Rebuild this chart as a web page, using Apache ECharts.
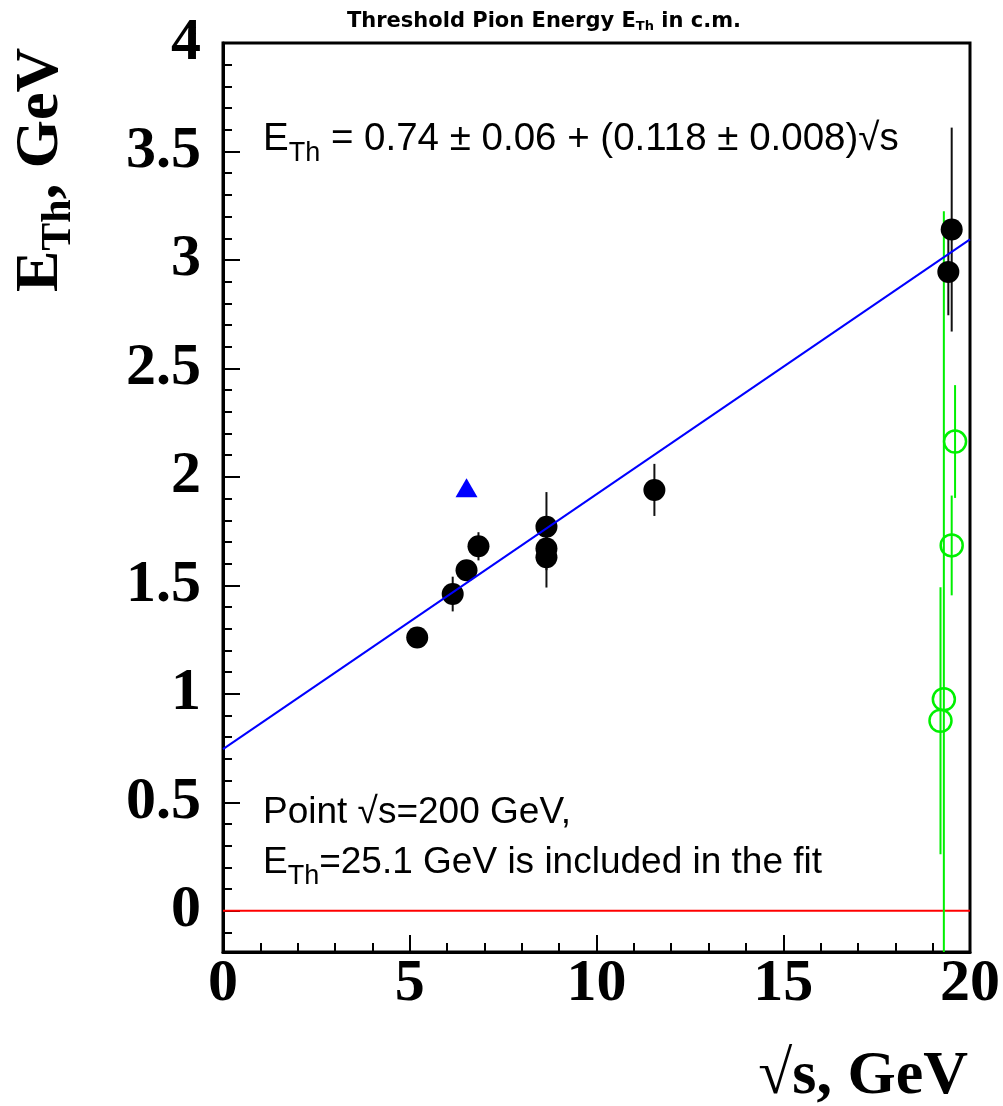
<!DOCTYPE html>
<html><head><meta charset="utf-8">
<script src="https://cdn.jsdelivr.net/npm/echarts@6/dist/echarts.min.js"></script>
<style>html,body{margin:0;padding:0;background:#fff}#c{width:1003px;height:1106px}</style>
</head><body><div id="c"></div>
<script>
// ---- data ----
const blackX   = [5.2, 6.15, 6.52, 6.84, 8.66, 8.66, 8.66, 11.55, 19.42, 19.51];
const blackY   = [1.26, 1.46, 1.57, 1.68, 1.77, 1.67, 1.63, 1.94, 2.945, 3.14];
const blackErr = [0.03, 0.08, 0.03, 0.065, 0.16, 0.10, 0.14, 0.12, 0.20, 0.47];
const greenX   = [19.21, 19.30, 19.51, 19.60];
const greenY   = [0.876, 0.975, 1.684, 2.163];
const greenErr = [0.615, 2.25, 0.23, 0.26];
const triX = [6.52];
const triY = [1.95];
const fitX = [0, 20];
const fitY = [0.745, 3.095];
const zeroX = [0, 20];
const zeroY = [0, 0];
const xTickLabels = [0, 5, 10, 15, 20];
const yTickLabels = [0, 0.5, 1, 1.5, 2, 2.5, 3, 3.5, 4];
const titleParts = ['Threshold Pion Energy E', 'Th', ' in c.m.'];
const formulaParts = ['E', 'Th', ' = 0.74 \u00b1 0.06 + (0.118 \u00b1 0.008)\u221as'];
const noteLine1 = 'Point \u221as=200 GeV,';
const noteLine2Parts = ['E', 'Th', '=25.1 GeV is included in the fit'];
const yTitleParts = ['E', 'Th', ', GeV'];
const xTitle = '\u221as, GeV';

// ---- helpers ----
const yMinorTicks = [];
for (let i = -1; i < 40; i++) { if (i % 5 !== 0) yMinorTicks.push(i / 10); }
const mctx = document.createElement('canvas').getContext('2d');
function measure(t, f) { mctx.font = f; return mctx.measureText(t).width; }
function run(parts, x0, baseline, color) {
  let x = x0; const els = [];
  parts.forEach(p => {
    els.push({ type: 'text', x: x, y: baseline + (p.dy || 0) - 0.345 * p.fs, silent: true,
      style: { text: p.t, font: p.f, fill: color || '#000', textAlign: 'left', textVerticalAlign: 'middle' } });
    x += measure(p.t, p.f);
  });
  return { els, width: x - x0 };
}
const SANS = '"Liberation Sans", Arial, sans-serif';
const SERIF = '"Liberation Serif", "Times New Roman", serif';
const TSANS = '"DejaVu Sans", sans-serif';
const pack = (xs, ys, es) => xs.map((x, i) => es ? [x, ys[i], es[i]] : [x, ys[i]]);

// title
const tf = 'bold 21px ' + TSANS, tfs = 'bold 13px ' + TSANS;
const titleSpec = [
  { t: titleParts[0], f: tf, fs: 21 },
  { t: titleParts[1], f: tfs, fs: 13, dy: 2 },
  { t: titleParts[2], f: tf, fs: 21 }];
let tw = run(titleSpec, 0, 0).width;
const titleEls = run(titleSpec, 544 - tw / 2, 29).els;

// formula
const ff = '38.5px ' + SANS, ffs = '27px ' + SANS;
const formulaEls = run([
  { t: formulaParts[0], f: ff, fs: 38.5 },
  { t: formulaParts[1], f: ffs, fs: 27, dy: 10 },
  { t: formulaParts[2], f: ff, fs: 38.5 }], 263, 153).els;

// note
const nf = '37px ' + SANS;
const note1 = run([{ t: noteLine1, f: nf, fs: 37 }], 263, 826).els;
const note2 = run([
  { t: noteLine2Parts[0], f: nf, fs: 37 },
  { t: noteLine2Parts[1], f: ffs, fs: 27, dy: 10 },
  { t: noteLine2Parts[2], f: nf, fs: 37 }], 263, 876).els;

// y title (rotated group)
const yf = 'bold 62px ' + SERIF, yfs = 'bold 42px ' + SERIF;
const yTitleEls = run([
  { t: yTitleParts[0], f: yf, fs: 62 },
  { t: yTitleParts[1], f: yfs, fs: 42, dy: 12 },
  { t: yTitleParts[2], f: yf, fs: 62 }], 0, 0).els;

// x title
const xf = 'bold 62px ' + SERIF;
const xTitleW = measure(xTitle, xf);
const xTitleEls = run([{ t: xTitle, f: xf, fs: 62 }], 968 - xTitleW, 1098).els;

const chart = echarts.init(document.getElementById('c'), null, { renderer: 'canvas' });
const labelStyle = { fontFamily: SERIF, fontWeight: 'bold', fontSize: 60, color: '#000' };
const GREEN = '#00f000';

function errBar(color) {
  return function (params, api) {
    const x = api.value(0), y = api.value(1), e = api.value(2);
    const p1 = api.coord([x, y - e]), p2 = api.coord([x, y + e]);
    return { type: 'line', shape: { x1: p1[0], y1: p1[1], x2: p2[0], y2: p2[1] },
      style: { stroke: color, lineWidth: 2 } };
  };
}

chart.setOption({
  animation: false,
  backgroundColor: '#fff',
  grid: { left: 223, right: 33, top: 43, bottom: 154, show: true, borderColor: '#000', borderWidth: 3,
    outerBoundsMode: 'none', containLabel: false },
  xAxis: {
    type: 'value', min: 0, max: 20, interval: 5,
    axisLine: { show: true, onZero: false, lineStyle: { color: '#000', width: 3 } },
    axisTick: { show: true, inside: true, length: 17, lineStyle: { color: '#000', width: 2 } },
    minorTick: { show: true, splitNumber: 5, length: 9, lineStyle: { color: '#000', width: 2 } },
    splitLine: { show: false },
    axisLabel: Object.assign({ margin: 2, showMaxLabel: true, showMinLabel: true,
      customValues: xTickLabels, formatter: v => String(v) }, labelStyle)
  },
  yAxis: [{
    type: 'value', min: -0.19, max: 4.0, position: 'left',
    axisLine: { show: true, onZero: false, lineStyle: { color: '#000', width: 3 } },
    axisTick: { show: true, inside: true, length: 17, customValues: yTickLabels, lineStyle: { color: '#000', width: 2 } },
    splitLine: { show: false },
    axisLabel: Object.assign({ margin: 22, customValues: yTickLabels, formatter: v => String(v) }, labelStyle)
  }, {
    type: 'value', min: -0.19, max: 4.0, position: 'left', offset: 0,
    axisLine: { show: false },
    axisTick: { show: true, inside: true, length: 9, customValues: yMinorTicks, lineStyle: { color: '#000', width: 2 } },
    axisLabel: { show: false }, splitLine: { show: false }
  }],
  graphic: [
    ...titleEls, ...formulaEls, ...note1, ...note2, ...xTitleEls,
    { type: 'group', x: 62, y: 292, rotation: Math.PI / 2, children: yTitleEls }
  ],
  series: [
    { type: 'line', data: pack(zeroX, zeroY), symbol: 'none', silent: true, z: 2,
      lineStyle: { color: '#ff0000', width: 2 } },
    { type: 'custom', data: pack(greenX, greenY, greenErr), renderItem: errBar(GREEN), clip: true, silent: true, z: 3 },
    { type: 'custom', data: pack(blackX, blackY, blackErr), renderItem: errBar('#111'), clip: true, silent: true, z: 3 },
    { type: 'scatter', data: pack(greenX, greenY), symbol: 'circle', symbolSize: 22, silent: true, z: 4,
      itemStyle: { color: 'rgba(0,0,0,0)', borderColor: GREEN, borderWidth: 2.5, opacity: 1 } },
    { type: 'scatter', data: pack(blackX, blackY), symbol: 'circle', symbolSize: 22, silent: true, z: 4,
      itemStyle: { color: '#000', opacity: 1 } },
    { type: 'scatter', data: pack(triX, triY), symbol: 'triangle', symbolSize: [22, 19], silent: true, z: 4,
      itemStyle: { color: '#0000ff', opacity: 1 } },
    { type: 'line', data: pack(fitX, fitY), symbol: 'none', silent: true, z: 5,
      lineStyle: { color: '#0000ff', width: 2 } }
  ]
});
</script></body></html>
